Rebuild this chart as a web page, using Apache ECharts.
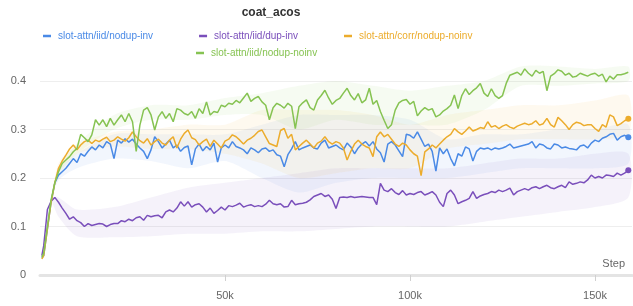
<!DOCTYPE html>
<html lang="en">
<head>
<meta charset="UTF-8" />
<title>coat_acos</title>
<style>
  * { margin: 0; padding: 0; box-sizing: border-box; }
  html, body { background: #fff; }
  #chart { width: 633px; height: 306px; }
</style>
</head>
<body>
<div id="chart"></div>
<script src="https://cdn.jsdelivr.net/npm/echarts@6/dist/echarts.min.js"></script>
<script>
// step, in thousands
const steps = [0.5, 1, 2, 3, 4, 5, 6, 7, 8, 9,
  10, 11, 12, 13, 14, 15, 16, 17, 18, 19, 20, 21, 22, 23, 24, 25, 26, 27, 28, 29,
  30, 31, 32, 33, 34, 35, 36, 37, 38, 39, 40, 41, 42, 43, 44, 45, 46, 47, 48, 49,
  50, 51, 52, 53, 54, 55, 56, 57, 58, 59, 60, 61, 62, 63, 64, 65, 66, 67, 68, 69,
  70, 71, 72, 73, 74, 75, 76, 77, 78, 79, 80, 81, 82, 83, 84, 85, 86, 87, 88, 89,
  90, 91, 92, 93, 94, 95, 96, 97, 98, 99, 100, 101, 102, 103, 104, 105, 106, 107, 108, 109,
  110, 111, 112, 113, 114, 115, 116, 117, 118, 119, 120, 121, 122, 123, 124, 125, 126, 127, 128, 129,
  130, 131, 132, 133, 134, 135, 136, 137, 138, 139, 140, 141, 142, 143, 144, 145, 146, 147, 148, 149,
  150, 151, 152, 153, 154, 155, 156, 157, 158, 159]

const names = ['slot-attn/iid/nodup-inv', 'slot-attn/iid/dup-inv', 'slot-attn/corr/nodup-noinv', 'slot-attn/iid/nodup-noinv']
const colors = ['#4a8ae6', '#7a4fbb', '#ecac2c', '#86c352']

const nodupInv = [0.035, 0.04, 0.095, 0.15, 0.19, 0.206, 0.213, 0.22, 0.23, 0.24,
  0.232, 0.25, 0.245, 0.255, 0.264, 0.258, 0.268, 0.262, 0.275, 0.27,
  0.24, 0.278, 0.272, 0.281, 0.274, 0.28, 0.27, 0.262, 0.255, 0.24,
  0.258, 0.285, 0.275, 0.262, 0.27, 0.278, 0.262, 0.268, 0.255, 0.263,
  0.266, 0.227, 0.26, 0.27, 0.256, 0.265, 0.258, 0.272, 0.233, 0.262,
  0.268, 0.262, 0.275, 0.265, 0.262, 0.258, 0.25, 0.262, 0.258, 0.252,
  0.26, 0.262, 0.255, 0.258, 0.248, 0.245, 0.223, 0.248, 0.26, 0.275,
  0.258, 0.262, 0.265, 0.268, 0.262, 0.26, 0.272, 0.278, 0.262, 0.265,
  0.268, 0.262, 0.258, 0.272, 0.264, 0.25, 0.262, 0.27, 0.275, 0.266,
  0.275, 0.26, 0.252, 0.233, 0.27, 0.275, 0.268, 0.256, 0.244, 0.29,
  0.288, 0.282, 0.295, 0.28, 0.265, 0.27, 0.255, 0.214, 0.262, 0.25,
  0.26, 0.24, 0.225, 0.25, 0.245, 0.264, 0.26, 0.235, 0.255, 0.262,
  0.26, 0.262, 0.258, 0.262, 0.26, 0.262, 0.265, 0.27, 0.262, 0.264,
  0.266, 0.268, 0.27, 0.275, 0.262, 0.27, 0.268, 0.262, 0.26, 0.27,
  0.268, 0.262, 0.264, 0.261, 0.26, 0.258, 0.266, 0.268, 0.262, 0.272,
  0.278, 0.275, 0.282, 0.285, 0.29, 0.292, 0.278, 0.285, 0.288, 0.284]

const dupInv = [0.04, 0.06, 0.135, 0.152, 0.16, 0.15, 0.138, 0.127, 0.115, 0.12,
  0.112, 0.108, 0.1, 0.106, 0.102, 0.104, 0.106, 0.105, 0.1, 0.104,
  0.106, 0.106, 0.112, 0.11, 0.115, 0.112, 0.118, 0.12, 0.113, 0.123,
  0.12, 0.122, 0.123, 0.118, 0.13, 0.134, 0.13, 0.138, 0.151, 0.142,
  0.151, 0.14, 0.145, 0.147, 0.14, 0.13, 0.138, 0.127, 0.133, 0.14,
  0.134, 0.143, 0.141, 0.144, 0.148, 0.14, 0.143, 0.145, 0.141, 0.143,
  0.141, 0.146, 0.154, 0.147, 0.145, 0.147, 0.14, 0.141, 0.154, 0.145,
  0.147, 0.148, 0.15, 0.155, 0.162, 0.165, 0.168, 0.162, 0.165, 0.156,
  0.137, 0.16, 0.161, 0.16, 0.162, 0.16, 0.161, 0.162, 0.161, 0.16,
  0.16, 0.145, 0.189, 0.175, 0.172, 0.178, 0.17, 0.166, 0.174, 0.165,
  0.168, 0.166, 0.17, 0.172, 0.165, 0.168, 0.172, 0.165, 0.15, 0.141,
  0.168, 0.175, 0.165, 0.147, 0.151, 0.154, 0.158, 0.172, 0.158, 0.163,
  0.166, 0.168, 0.172, 0.17, 0.175, 0.172, 0.175, 0.179, 0.165, 0.172,
  0.175, 0.178, 0.175, 0.18, 0.182, 0.178, 0.182, 0.185, 0.18, 0.178,
  0.182, 0.185, 0.18, 0.192, 0.187, 0.189, 0.192, 0.19, 0.196, 0.206,
  0.2, 0.203, 0.2, 0.206, 0.205, 0.203, 0.21, 0.206, 0.21, 0.216]

const corrNoinv = [0.033, 0.04, 0.095, 0.15, 0.19, 0.22, 0.235, 0.247, 0.26, 0.268,
  0.258, 0.268, 0.275, 0.278, 0.271, 0.278, 0.275, 0.28, 0.284, 0.275,
  0.278, 0.285, 0.28, 0.276, 0.283, 0.295, 0.285, 0.277, 0.272, 0.281,
  0.268, 0.275, 0.28, 0.272, 0.268, 0.278, 0.285, 0.262, 0.28, 0.292,
  0.299, 0.283, 0.279, 0.268, 0.275, 0.28, 0.265, 0.278, 0.27, 0.262,
  0.276, 0.28, 0.289, 0.285, 0.278, 0.27, 0.278, 0.282, 0.288, 0.296,
  0.299, 0.285, 0.271, 0.268, 0.265, 0.298, 0.302, 0.282, 0.29, 0.258,
  0.265, 0.272, 0.278, 0.27, 0.262, 0.272, 0.276, 0.285, 0.275, 0.27,
  0.275, 0.272, 0.262, 0.237, 0.255, 0.27, 0.278, 0.27, 0.265, 0.262,
  0.244, 0.285, 0.295, 0.285, 0.29, 0.28, 0.27, 0.265, 0.272, 0.268,
  0.258, 0.25, 0.245, 0.205, 0.254, 0.26, 0.268, 0.262, 0.27, 0.278,
  0.285, 0.29, 0.302, 0.295, 0.29, 0.297, 0.305, 0.297, 0.3, 0.304,
  0.302, 0.316, 0.305, 0.308, 0.302, 0.307, 0.31, 0.305, 0.302, 0.307,
  0.31, 0.313, 0.31, 0.312, 0.318, 0.309, 0.312, 0.323, 0.31, 0.305,
  0.325, 0.318, 0.31, 0.3, 0.31, 0.315, 0.313, 0.308, 0.31, 0.31,
  0.302, 0.296, 0.31, 0.305, 0.33, 0.326, 0.308, 0.312, 0.318, 0.322]

const nodupNoinv = [0.037, 0.045, 0.1, 0.155, 0.19, 0.213, 0.23, 0.237, 0.244, 0.254,
  0.261, 0.29, 0.283, 0.275, 0.289, 0.32, 0.309, 0.32, 0.306, 0.323,
  0.309, 0.32, 0.33, 0.316, 0.333, 0.316, 0.255, 0.309, 0.34, 0.345,
  0.33, 0.299, 0.326, 0.337, 0.323, 0.333, 0.316, 0.343, 0.34, 0.333,
  0.33, 0.337, 0.323, 0.343, 0.333, 0.357, 0.33, 0.337, 0.335, 0.35,
  0.347, 0.354, 0.352, 0.36, 0.355, 0.365, 0.375, 0.358, 0.364, 0.368,
  0.357, 0.35, 0.32, 0.345, 0.354, 0.35, 0.344, 0.354, 0.348, 0.302,
  0.347, 0.355, 0.361, 0.345, 0.34, 0.361, 0.37, 0.381, 0.365, 0.352,
  0.36, 0.364, 0.375, 0.385, 0.37, 0.361, 0.374, 0.355, 0.361, 0.385,
  0.352, 0.36, 0.337, 0.319, 0.302, 0.31, 0.34, 0.355, 0.36, 0.362,
  0.352, 0.358, 0.328, 0.338, 0.345, 0.34, 0.343, 0.326, 0.33, 0.338,
  0.343, 0.35, 0.371, 0.343, 0.37, 0.384, 0.372, 0.38, 0.386, 0.395,
  0.375, 0.368, 0.384, 0.37, 0.364, 0.37, 0.395, 0.412, 0.415, 0.418,
  0.412, 0.425, 0.416, 0.41, 0.422, 0.416, 0.42, 0.38, 0.41, 0.415,
  0.423, 0.42, 0.412, 0.416, 0.408, 0.41, 0.416, 0.413, 0.41, 0.414,
  0.416, 0.41, 0.414, 0.398, 0.41, 0.404, 0.413, 0.413, 0.415, 0.418]

// min / max shading, coarser
const bandSteps = [0.5, 3, 5, 10, 20, 30, 40, 50, 60, 70, 80, 90, 100, 110, 120, 130, 140, 150, 159]
const nodupInvLo = [0.035, 0.15, 0.195, 0.22, 0.24, 0.235, 0.22, 0.235, 0.2, 0.17, 0.19, 0.2, 0.2, 0.2, 0.21, 0.22, 0.22, 0.22, 0.23]
const nodupInvHi = [0.035, 0.15, 0.215, 0.25, 0.29, 0.29, 0.29, 0.29, 0.31, 0.33, 0.33, 0.33, 0.32, 0.28, 0.29, 0.29, 0.3, 0.3, 0.31]
const dupInvLo = [0.04, 0.15, 0.12, 0.08, 0.078, 0.08, 0.085, 0.085, 0.09, 0.09, 0.095, 0.1, 0.1, 0.1, 0.11, 0.12, 0.13, 0.14, 0.16]
const dupInvHi = [0.04, 0.16, 0.16, 0.135, 0.14, 0.16, 0.18, 0.19, 0.2, 0.21, 0.22, 0.22, 0.22, 0.22, 0.23, 0.24, 0.24, 0.25, 0.25]
const corrNoinvLo = [0.033, 0.15, 0.21, 0.25, 0.265, 0.26, 0.26, 0.25, 0.23, 0.2, 0.21, 0.22, 0.22, 0.26, 0.27, 0.28, 0.28, 0.28, 0.29]
const corrNoinvHi = [0.033, 0.15, 0.23, 0.27, 0.295, 0.3, 0.31, 0.31, 0.34, 0.34, 0.34, 0.33, 0.31, 0.33, 0.34, 0.35, 0.35, 0.36, 0.37]
const nodupNoinvLo = [0.037, 0.155, 0.205, 0.25, 0.3, 0.32, 0.32, 0.33, 0.33, 0.3, 0.32, 0.31, 0.31, 0.31, 0.34, 0.39, 0.39, 0.395, 0.4]
const nodupNoinvHi = [0.037, 0.155, 0.22, 0.27, 0.33, 0.35, 0.35, 0.365, 0.375, 0.39, 0.4, 0.39, 0.38, 0.39, 0.4, 0.43, 0.43, 0.425, 0.43]

const yTicks = [0, 0.1, 0.2, 0.3, 0.4]
const xTicks = [50, 100, 150]

const lines = [nodupInv, dupInv, corrNoinv, nodupNoinv]
const bands = [[nodupInvLo, nodupInvHi], [dupInvLo, dupInvHi], [corrNoinvLo, corrNoinvHi], [nodupNoinvLo, nodupNoinvHi]]

const font = 'Liberation Sans, Arial, Helvetica, sans-serif'

function fade(hex, a) {
  const n = parseInt(hex.slice(1), 16)
  return `rgba(${n >> 16},${(n >> 8) & 255},${n & 255},${a})`
}

// shaded band between lo and hi, drawn with the axis scales
function bandSeries(i) {
  const lo = bands[i][0], hi = bands[i][1]
  return {
    type: 'custom',
    silent: true,
    z: 1,
    clip: false,
    data: [0],
    renderItem(params, api) {
      const pts = []
      bandSteps.forEach((s, j) => pts.push(api.coord([s, lo[j]])))
      for (let j = bandSteps.length - 1; j >= 0; j--) pts.push(api.coord([bandSteps[j], hi[j]]))
      return {
        type: 'polygon',
        shape: { points: pts, smooth: 0.25 },
        style: { fill: fade(colors[i], 0.075) }
      }
    }
  }
}

function lineSeries(i) {
  const vals = lines[i]
  const last = steps.length - 1
  return {
    name: names[i],
    type: 'line',
    z: 3,
    clip: false,
    showSymbol: false,
    symbol: 'none',
    color: colors[i],
    lineStyle: { width: 1.5, color: colors[i] },
    data: steps.map((s, j) => [s, vals[j]]),
    markPoint: {
      symbol: 'circle',
      symbolSize: 6,
      label: { show: false },
      itemStyle: { color: colors[i] },
      data: [{ coord: [steps[last], vals[last]] }]
    }
  }
}

const legendText = { fontSize: 10, fontFamily: font, padding: [0, 0, 0, 2] }

const chart = echarts.init(document.getElementById('chart'))
chart.setOption({
  animation: false,
  textStyle: { fontFamily: font },
  grid: { left: 40, right: 1, top: 81, bottom: 31 },
  legend: [
    {
      left: 38, top: 26, itemGap: 46, itemWidth: 8, itemHeight: 2.5, icon: 'rect',
      selectedMode: false,
      textStyle: legendText,
      data: [0, 1, 2].map(i => ({ name: names[i], textStyle: { color: colors[i] } }))
    },
    {
      left: 191, top: 43, itemWidth: 8, itemHeight: 2.5, icon: 'rect',
      selectedMode: false,
      textStyle: legendText,
      data: [{ name: names[3], textStyle: { color: colors[3] } }]
    }
  ],
  xAxis: {
    type: 'value',
    min: 0,
    max: 160,
    interval: 50,
    axisLine: { lineStyle: { color: '#e4e4e4', width: 3 } },
    axisTick: { customValues: xTicks, length: 6, lineStyle: { color: '#d0d0d0' } },
    axisLabel: {
      customValues: xTicks,
      formatter: v => v + 'k',
      color: '#666', fontSize: 11, margin: 15
    },
    splitLine: { show: false }
  },
  yAxis: {
    type: 'value',
    min: 0,
    max: 0.4,
    interval: 0.1,
    axisLine: { show: false },
    axisTick: { show: false },
    axisLabel: { color: '#666', fontSize: 11, margin: 14, customValues: yTicks },
    splitLine: { lineStyle: { color: '#eeeeee', width: 1 } }
  },
  graphic: [
    {
      type: 'text', x: 271, y: 13,
      style: { text: 'coat_acos', font: 'bold 12px ' + font, fill: '#333', textAlign: 'center', textVerticalAlign: 'middle' }
    },
    {
      type: 'text', x: 625, y: 264,
      style: { text: 'Step', font: '11px ' + font, fill: '#666', textAlign: 'right', textVerticalAlign: 'middle' }
    }
  ],
  series: [0, 1, 2, 3].map(bandSeries).concat([0, 1, 2, 3].map(lineSeries))
})
</script>
</body>
</html>
